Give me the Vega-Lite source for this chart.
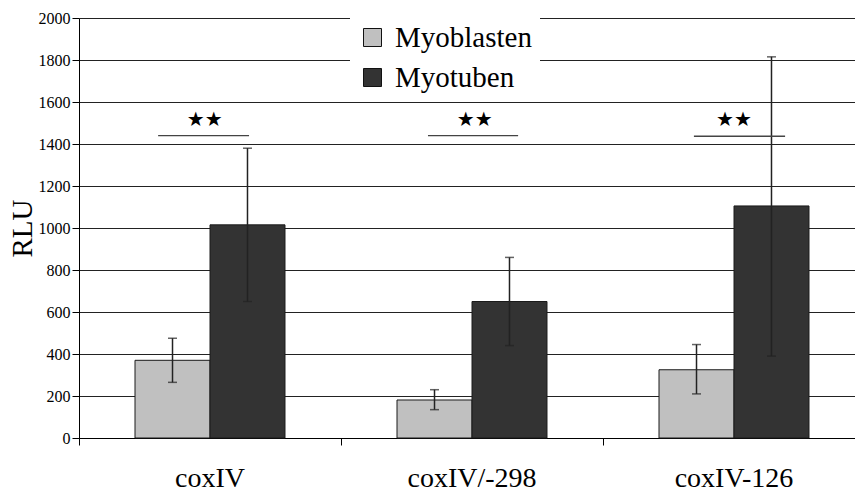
{
  "$schema": "https://vega.github.io/schema/vega-lite/v6.json",
  "width": 786,
  "height": 420,
  "autosize": {"type": "none"},
  "padding": {"left": 79, "top": 18, "right": 0, "bottom": 55},
  "background": "white",
  "config": {
    "font": "Liberation Serif",
    "view": {"stroke": null},
    "axis": {
      "labelFont": "Liberation Serif", "titleFont": "Liberation Serif",
      "labelColor": "black", "titleColor": "black", "tickColor": "black", "domainColor": "black"
    },
    "axisY": {
      "labelFontSize": 16, "labelPadding": 2, "tickSize": 7, "format": "d",
      "titleFontSize": 29, "titleFontWeight": "normal", "titlePadding": 1,
      "grid": true, "gridColor": "#222", "gridWidth": 1, "gridOpacity": 1
    },
    "axisX": {"labelFontSize": 28, "labelPadding": 19, "tickSize": 7, "grid": false},
    "legend": {
      "labelFont": "Liberation Serif", "labelFontSize": 29, "labelColor": "black", "labelLimit": 400
    }
  },
  "datasets": {
    "bars": [
      {"construct": "coxIV", "cell": "Myoblasten", "rlu": 370, "lo": 265, "hi": 475},
      {"construct": "coxIV", "cell": "Myotuben", "rlu": 1015, "lo": 650, "hi": 1380},
      {"construct": "coxIV/-298", "cell": "Myoblasten", "rlu": 181, "lo": 135, "hi": 230},
      {"construct": "coxIV/-298", "cell": "Myotuben", "rlu": 650, "lo": 440, "hi": 860},
      {"construct": "coxIV-126", "cell": "Myoblasten", "rlu": 325, "lo": 210, "hi": 445},
      {"construct": "coxIV-126", "cell": "Myotuben", "rlu": 1105, "lo": 390, "hi": 1815}
    ],
    "sig": [
      {"x1": 0.302, "x2": 0.649, "y": 1440, "xs": 0.48, "ys": 1515, "label": "★★"},
      {"x1": 1.332, "x2": 1.676, "y": 1440, "xs": 1.51, "ys": 1515, "label": "★★"},
      {"x1": 2.347, "x2": 2.695, "y": 1437, "xs": 2.50, "ys": 1512, "label": "★★"}
    ]
  },
  "layer": [
    {
      "data": {"name": "bars"},
      "encoding": {
        "x": {
          "field": "construct", "type": "nominal", "sort": null,
          "scale": {"paddingInner": 0, "paddingOuter": 0},
          "axis": {"title": null, "labelAngle": 0, "bandPosition": 0}
        },
        "xOffset": {"field": "cell", "type": "nominal", "sort": null, "scale": {"paddingOuter": 0.747, "paddingInner": 0}}
      },
      "layer": [
        {
          "mark": {"type": "bar", "stroke": "#1a1a1a", "strokeWidth": 1},
          "encoding": {
            "y": {
              "field": "rlu", "type": "quantitative", "title": "RLU",
              "scale": {"domain": [0, 2000], "nice": false},
              "axis": {"values": [0, 200, 400, 600, 800, 1000, 1200, 1400, 1600, 1800, 2000]}
            },
            "color": {
              "field": "cell", "type": "nominal",
              "scale": {"domain": ["Myoblasten", "Myotuben"], "range": ["#c0c0c0", "#333333"]},
              "legend": {
                "title": null, "orient": "none", "legendX": 271, "legendY": -3,
                "fillColor": "white", "padding": 8, "rowPadding": 10,
                "symbolType": "square", "symbolSize": 324, "symbolStrokeColor": "#111", "symbolStrokeWidth": 1,
                "labelOffset": 8
              }
            }
          }
        },
        {
          "mark": {"type": "rule", "color": "#222", "strokeWidth": 1.5},
          "encoding": {"y": {"field": "lo", "type": "quantitative"}, "y2": {"field": "hi"}}
        },
        {
          "mark": {"type": "tick", "color": "#222", "size": 9, "thickness": 1.5},
          "encoding": {"y": {"field": "lo", "type": "quantitative"}}
        },
        {
          "mark": {"type": "tick", "color": "#222", "size": 9, "thickness": 1.5},
          "encoding": {"y": {"field": "hi", "type": "quantitative"}}
        }
      ]
    },
    {
      "data": {"name": "sig"},
      "layer": [
        {
          "mark": {"type": "rule", "color": "#444", "strokeWidth": 1.3},
          "encoding": {
            "x": {"field": "x1", "type": "quantitative", "scale": {"domain": [0, 3], "nice": false, "zero": false}, "axis": null},
            "x2": {"field": "x2"},
            "y": {"field": "y", "type": "quantitative"}
          }
        },
        {
          "mark": {"type": "text", "font": "DejaVu Sans", "fontSize": 20, "baseline": "middle", "align": "center", "color": "black"},
          "encoding": {
            "x": {"field": "xs", "type": "quantitative", "axis": null},
            "y": {"field": "ys", "type": "quantitative"},
            "text": {"field": "label"}
          }
        }
      ]
    }
  ],
  "resolve": {"scale": {"x": "independent"}}
}
